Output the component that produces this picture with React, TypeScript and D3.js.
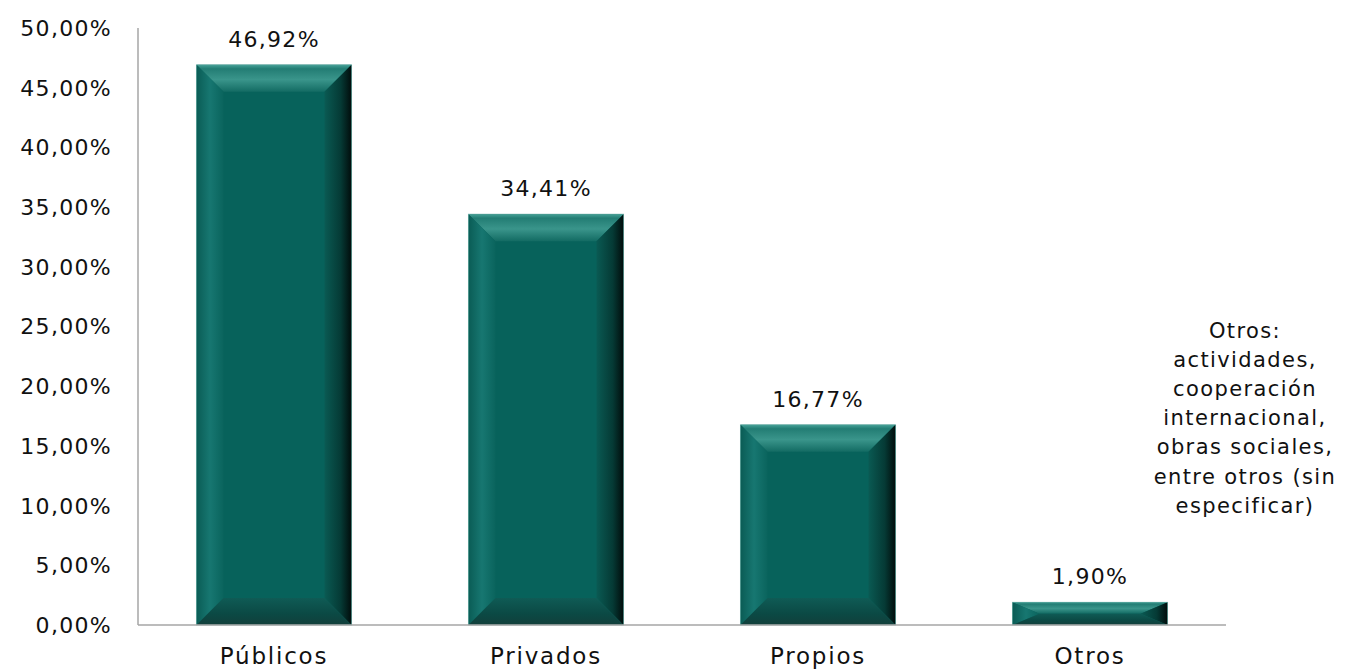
import * as d3 from 'd3';

const CATEGORIES = ['Públicos', 'Privados', 'Propios', 'Otros'];
const VALUES = [46.92, 34.41, 16.77, 1.9];
const Y_TICKS = [0, 5, 10, 15, 20, 25, 30, 35, 40, 45, 50];
const NOTE_LINES = [
  'Otros:',
  'actividades,',
  'cooperación',
  'internacional,',
  'obras sociales,',
  'entre otros (sin',
  'especificar)',
];

const WIDTH = 1345;
const HEIGHT = 670;
const MARGIN = { top: 28, left: 138, right: 119, bottom: 45 };
const FONT = '"DejaVu Sans", "Noto Sans", sans-serif';
const BEVEL = 27;

const fmt = (v: number) => `${v.toFixed(2).replace('.', ',')}%`;

export default function App() {
  const innerW = WIDTH - MARGIN.left - MARGIN.right;
  const baseY = HEIGHT - MARGIN.bottom;

  const x = d3
    .scaleBand<string>()
    .domain(CATEGORIES)
    .range([MARGIN.left, MARGIN.left + innerW])
    .paddingInner(0.43)
    .paddingOuter(0.215);
  const y = d3.scaleLinear().domain([0, 50]).range([baseY, MARGIN.top]);

  return (
    <svg
      width={WIDTH}
      height={HEIGHT}
      style={{ position: 'absolute', left: 0, top: 0, background: '#fff' }}
    >
      <defs>
        <linearGradient id="bvTop" x1="0" y1="0" x2="0" y2="1">
          <stop offset="0" stopColor="#45a197" />
          <stop offset="0.15" stopColor="#237d74" />
          <stop offset="0.55" stopColor="#3a958b" />
          <stop offset="1" stopColor="#136b63" />
        </linearGradient>
        <linearGradient id="bvLeft" x1="0" y1="0" x2="1" y2="0">
          <stop offset="0" stopColor="#0a5c55" />
          <stop offset="0.5" stopColor="#177771" />
          <stop offset="1" stopColor="#0a645d" />
        </linearGradient>
        <linearGradient id="bvRight" x1="0" y1="0" x2="1" y2="0">
          <stop offset="0" stopColor="#0a5a53" />
          <stop offset="0.6" stopColor="#053a35" />
          <stop offset="1" stopColor="#010c0b" />
        </linearGradient>
        <linearGradient id="bvBottom" x1="0" y1="0" x2="0" y2="1">
          <stop offset="0" stopColor="#0f5b55" />
          <stop offset="0.6" stopColor="#0b4944" />
          <stop offset="1" stopColor="#123f3b" />
        </linearGradient>
      </defs>

      {/* axes */}
      <line
        x1={MARGIN.left}
        x2={MARGIN.left}
        y1={y(50)}
        y2={baseY}
        stroke="#a6a6a6"
        strokeWidth={1.5}
      />
      {Y_TICKS.map((t) => (
        <text
          key={t}
          x={112}
          y={y(t)}
          dy="0.36em"
          textAnchor="end"
          fontFamily={FONT}
          fontSize={22}
          letterSpacing={1.3}
          fill="#111"
        >
          {fmt(t)}
        </text>
      ))}

      {/* bars */}
      {CATEGORIES.map((c, i) => {
        const x0 = x(c)!;
        const x1 = x0 + x.bandwidth();
        const y0 = y(VALUES[i]);
        const y1 = baseY;
        const b = Math.min(BEVEL, (y1 - y0) / 2);
        const ix0 = x0 + BEVEL;
        const ix1 = x1 - BEVEL;
        const iy0 = y0 + b;
        const iy1 = y1 - b;
        const pts = (arr: number[][]) => arr.map((p) => p.join(',')).join(' ');
        return (
          <g key={c}>
            <rect x={x0} y={y0} width={x1 - x0} height={y1 - y0} fill="#07625b" />
            <polygon points={pts([[x0, y0], [x1, y0], [ix1, iy0], [ix0, iy0]])} fill="url(#bvTop)" />
            <polygon points={pts([[x0, y0], [ix0, iy0], [ix0, iy1], [x0, y1]])} fill="url(#bvLeft)" />
            <polygon points={pts([[x1, y0], [x1, y1], [ix1, iy1], [ix1, iy0]])} fill="url(#bvRight)" />
            <polygon points={pts([[x0, y1], [ix0, iy1], [ix1, iy1], [x1, y1]])} fill="url(#bvBottom)" />
            <rect
              x={x0}
              y={y0}
              width={x1 - x0}
              height={y1 - y0}
              fill="none"
              stroke="#5fa9a1"
              strokeOpacity={0.5}
              strokeWidth={1}
            />
            <text
              x={(x0 + x1) / 2}
              y={y0 - 18}
              textAnchor="middle"
              fontFamily={FONT}
              fontSize={22}
              letterSpacing={1.3}
              fill="#111"
            >
              {fmt(VALUES[i])}
            </text>
            <text
              x={(x0 + x1) / 2}
              y={baseY + 39}
              textAnchor="middle"
              fontFamily={FONT}
              fontSize={23}
              letterSpacing={1.8}
              fill="#111"
            >
              {c}
            </text>
          </g>
        );
      })}

      <line
        x1={MARGIN.left}
        x2={MARGIN.left + innerW}
        y1={baseY}
        y2={baseY}
        stroke="#a6a6a6"
        strokeWidth={1.5}
      />

      {/* note */}
      {NOTE_LINES.map((l, i) => (
        <text
          key={l}
          x={1245}
          y={330 + i * 29.2}
          dy="0.36em"
          textAnchor="middle"
          fontFamily={FONT}
          fontSize={21}
          letterSpacing={1.4}
          fill="#111"
        >
          {l}
        </text>
      ))}
    </svg>
  );
}
